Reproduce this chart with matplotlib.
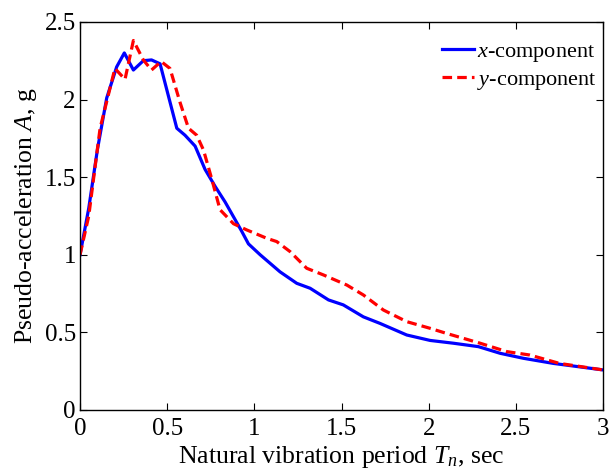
import matplotlib

matplotlib.use("Agg")
import matplotlib.pyplot as plt

# response spectra
period_x = [0.0, 0.05, 0.1, 0.153, 0.21, 0.254, 0.306, 0.363, 0.41, 0.459, 0.555,
            0.602, 0.66, 0.717, 0.775, 0.832, 0.88, 0.928, 0.966, 1.033, 1.147,
            1.243, 1.32, 1.425, 1.51, 1.625, 1.72, 1.874, 2.008, 2.142, 2.285,
            2.41, 2.543, 2.715, 3.0]
accel_x = [1.0, 1.3, 1.68, 2.01, 2.21, 2.30, 2.19, 2.25, 2.255, 2.23, 1.815,
           1.77, 1.70, 1.55, 1.44, 1.34, 1.245, 1.15, 1.07, 1.0, 0.89,
           0.816, 0.784, 0.709, 0.677, 0.60, 0.558, 0.483, 0.448, 0.43, 0.408,
           0.365, 0.333, 0.30, 0.258]

period_y = [0.0, 0.05, 0.115, 0.2, 0.258, 0.306, 0.363, 0.41, 0.465, 0.516,
            0.574, 0.622, 0.669, 0.708, 0.755, 0.803, 0.88, 0.956, 1.071, 1.128,
            1.205, 1.30, 1.396, 1.53, 1.625, 1.74, 1.874, 2.008, 2.10, 2.295,
            2.448, 2.58, 2.75, 3.0]
accel_y = [1.0, 1.25, 1.815, 2.20, 2.13, 2.38, 2.255, 2.19, 2.245, 2.20,
           1.98, 1.815, 1.77, 1.675, 1.49, 1.29, 1.20, 1.16, 1.106, 1.085,
           1.02, 0.913, 0.87, 0.805, 0.741, 0.644, 0.569, 0.526, 0.494, 0.43,
           0.376, 0.354, 0.30, 0.258]

plt.rcParams["font.family"] = "Liberation Serif"
plt.rcParams["mathtext.fontset"] = "custom"
plt.rcParams["mathtext.rm"] = "Liberation Serif"
plt.rcParams["mathtext.it"] = "Liberation Serif:italic"

fig = plt.figure(figsize=(6.11, 4.76), dpi=100)
ax = fig.add_axes([0.131, 0.1387, 0.856, 0.8153])

ax.plot(period_x, accel_x, color="#0000ff", lw=2.3, label="$x$-component")
ax.plot(period_y, accel_y, color="#ff0000", lw=2.3, ls=(0, (3, 1.6)),
        label="$y$-component")

ax.set_xlim(0, 3)
ax.set_ylim(0, 2.5)
ax.set_xticks([0, 0.5, 1, 1.5, 2, 2.5, 3])
ax.set_xticklabels(["0", "0.5", "1", "1.5", "2", "2.5", "3"])
ax.set_yticks([0, 0.5, 1, 1.5, 2, 2.5])
ax.set_yticklabels(["0", "0.5", "1", "1.5", "2", "2.5"])
ax.tick_params(direction="in", top=True, right=True, length=5, width=0.8,
               labelsize=18, pad=3)
ax.tick_params(axis="x", pad=6)
for sp in ax.spines.values():
    sp.set_linewidth(1.0)

ax.set_xlabel("Natural vibration period $T_n$, sec", fontsize=18.5, labelpad=3)
ax.set_ylabel("Pseudo-acceleration $A$, g", fontsize=18.5, labelpad=4)

ax.legend(loc="upper right", frameon=False, fontsize=16, handlelength=1.45,
          handletextpad=0.15, labelspacing=0.25, borderaxespad=0.3,
          bbox_to_anchor=(1.018, 0.99))

fig.savefig("out.png", dpi=100)
